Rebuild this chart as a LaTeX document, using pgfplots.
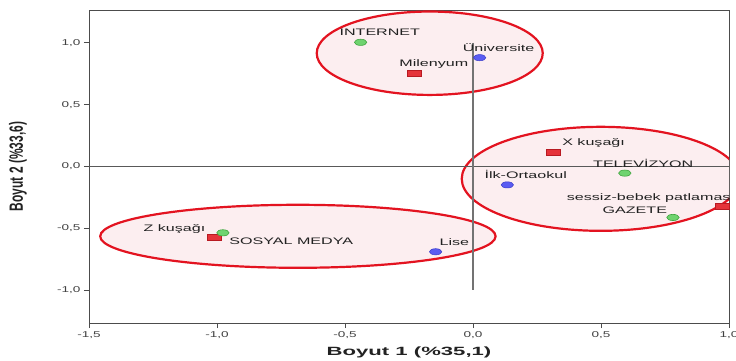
\documentclass[border=0pt]{standalone}
\usepackage{fontspec}
\setmainfont{Liberation Sans}
\newfontfamily\lblfont[FakeStretch=1.7]{Liberation Sans}
\newfontfamily\xlabfont[FakeStretch=1.85]{Liberation Sans}
\newfontfamily\tickfont[FakeStretch=1.6]{Liberation Sans}
\usepackage{pgfplots}
\pgfplotsset{compat=1.18}
\definecolor{ptgreen}{HTML}{6FD36F}
\definecolor{ptgreenE}{HTML}{3FA53F}
\definecolor{ptblue}{HTML}{5A5CF2}
\definecolor{ptblueE}{HTML}{3A3CC8}
\definecolor{ptred}{HTML}{E5333A}
\definecolor{ptredE}{HTML}{B81A22}
\definecolor{ellfill}{HTML}{FCEEF0}
\definecolor{elledge}{HTML}{E31320}
\definecolor{txt}{HTML}{222222}
\begin{document}
\begin{tikzpicture}
\begin{axis}[
  scale only axis, width=640bp, height=313bp,
  xmin=-1.5, xmax=1.0, ymin=-1.263, ymax=1.264,
  xtick={-1.5,-1,-0.5,0,0.5,1}, ytick={-1,-0.5,0,0.5,1},
  tick align=outside, tick pos=left, major tick length=5bp,
  axis line style={draw=black!70, line width=0.8bp},
  tick style={draw=black!70, line width=0.8bp},
  ticklabel style={font=\tickfont\fontsize{8.5}{10}\selectfont, text=black!75},
  /pgf/number format/use comma,
  /pgf/number format/fixed,
  /pgf/number format/fixed zerofill,
  /pgf/number format/precision=1,
  /pgf/number format/assume math mode=true,
  clip=true,
]
\coordinate (SW) at (rel axis cs:0,0);
\coordinate (NE) at (rel axis cs:1,1);
\coordinate (L) at (rel axis cs:0,0.5);
\coordinate (B) at (rel axis cs:0.5,0);
% ellipses
\draw[fill=ellfill, draw=elledge, line width=2.2bp] (axis cs:-0.169,0.915) ellipse [x radius=113bp, y radius=41.7bp];
\draw[fill=ellfill, draw=elledge, line width=2.2bp] (axis cs:-0.684,-0.563) ellipse [x radius=197.7bp, y radius=31.5bp];
\draw[fill=ellfill, draw=elledge, line width=2.2bp] (axis cs:0.499,-0.099) ellipse [x radius=139bp, y radius=52bp];
% reference lines
\draw[black!65, line width=0.8bp] (axis cs:-1.5,0) -- (axis cs:1,0);
\draw[black!55, line width=2bp] (axis cs:0,1) -- (axis cs:0,-1);
% labels
\begin{scope}[every node/.style={font=\lblfont\fontsize{9.5}{11}\selectfont, text=txt, inner sep=0pt}]
\node at (axis cs:-0.364,1.082) {INTERNET};
\node at (axis cs:0.100,0.957) {Üniversite};
\node at (axis cs:-0.153,0.828) {Milenyum};
\node at (axis cs:0.471,0.191) {X kuşağı};
\node at (axis cs:0.665,0.022) {TELEVİZYON};
\node at (axis cs:0.206,-0.063) {İlk-Ortaokul};
\node[anchor=west] at (axis cs:0.366,-0.256) {sessiz-bebek patlaması};
\node at (axis cs:0.632,-0.349) {GAZETE};
\node at (axis cs:-1.166,-0.502) {Z kuşağı};
\node at (axis cs:-0.710,-0.603) {SOSYAL MEDYA};
\node at (axis cs:-0.073,-0.607) {Lise};
\end{scope}
% points
\addplot[only marks, mark=square*, mark size=3bp, mark options={xscale=2.3, fill=ptred, draw=ptredE, line width=0.5bp}]
  coordinates {(-0.229,0.753) (0.315,0.116) (0.973,-0.317) (-1.012,-0.569)};
\addplot[only marks, mark=*, mark size=3.1bp, mark options={xscale=2, fill=ptblue, draw=ptblueE, line width=0.5bp}]
  coordinates {(0.026,0.879) (0.134,-0.148) (-0.146,-0.688)};
\addplot[only marks, mark=*, mark size=3.1bp, mark options={xscale=2, fill=ptgreen, draw=ptgreenE, line width=0.6bp}]
  coordinates {(-0.439,1.003) (0.593,-0.053) (0.781,-0.411) (-0.977,-0.535)};
\end{axis}
\node[anchor=center, text=txt] at ([yshift=-29bp]B) {\xlabfont\bfseries\fontsize{12}{14}\selectfont Boyut 1 (\%35,1)};
\node[anchor=center, rotate=90, text=txt] at ([xshift=-71bp]L) {\scalebox{1}[1.6]{\bfseries\fontsize{12}{14}\selectfont Boyut 2 (\%33,6)}};
\pgfresetboundingbox
\path[use as bounding box] ([xshift=-89bp,yshift=-38bp]SW) rectangle ([xshift=7bp,yshift=10bp]NE);
\end{tikzpicture}
\end{document}
